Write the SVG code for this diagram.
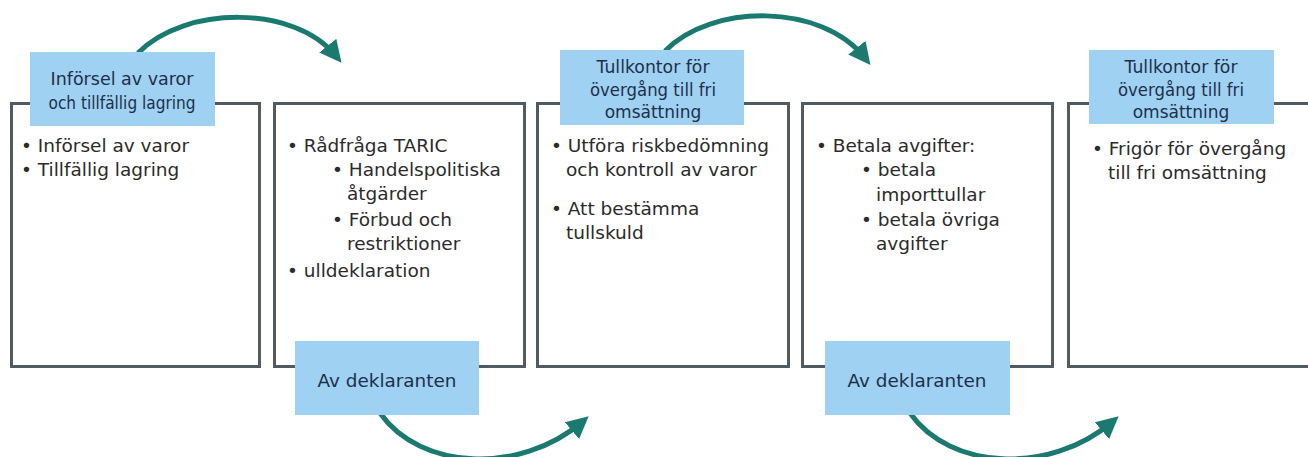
<svg xmlns="http://www.w3.org/2000/svg" width="1308" height="457" viewBox="0 0 1308 457">
<defs>
<style>
.frame{fill:#ffffff;stroke:#4f5a63;stroke-width:3}
.lab{fill:#9fd1f3}
.lt{font-family:"DejaVu Sans",Verdana,sans-serif;font-size:17px;fill:#1d3048;text-anchor:middle}
.bt{font-family:"DejaVu Sans",Verdana,sans-serif;font-size:18.5px;fill:#2b2b2b}
.arr{fill:none;stroke:#1b7a6f;stroke-width:5}
</style>
<marker id="ah" viewBox="0 0 10 10" refX="6" refY="5" markerWidth="4.4" markerHeight="4.4" orient="auto" markerUnits="strokeWidth">
<path d="M0,0 L10,5 L0,10 Z" fill="#1b7a6f"/>
</marker>
</defs>
<rect width="1308" height="457" fill="#ffffff"/>
<g id="connectors">
<path class="arr" d="M138,53 C185,5 295,5 336,56" marker-end="url(#ah)"/>
<path class="arr" d="M665,51 C712,3 822,3 865,58" marker-end="url(#ah)"/>
<path class="arr" d="M380,413 C420,470 520,475 582,422" marker-end="url(#ah)"/>
<path class="arr" d="M910,413 C950,470 1050,475 1112,422" marker-end="url(#ah)"/>
</g>
<g id="box1">
<rect class="frame" x="11.5" y="103.5" width="248" height="263"/>
<text class="bt" x="21" y="152">• Införsel av varor</text>
<text class="bt" x="21" y="176">• Tillfällig lagring</text>
</g>
<g id="box2">
<rect class="frame" x="274.5" y="103.5" width="250" height="263"/>
<text class="bt" x="287" y="152">• Rådfråga TARIC</text>
<text class="bt" x="332" y="176">• Handelspolitiska</text>
<text class="bt" x="347" y="200">åtgärder</text>
<text class="bt" x="332" y="226">• Förbud och</text>
<text class="bt" x="347" y="250">restriktioner</text>
<text class="bt" x="287" y="277">• ulldeklaration</text>
</g>
<g id="box3">
<rect class="frame" x="537.5" y="103.5" width="251" height="263"/>
<text class="bt" x="551" y="152">• Utföra riskbedömning</text>
<text class="bt" x="566" y="176">och kontroll av varor</text>
<text class="bt" x="551" y="215">• Att bestämma</text>
<text class="bt" x="566" y="239">tullskuld</text>
</g>
<g id="box4">
<rect class="frame" x="802.5" y="103.5" width="250" height="263"/>
<text class="bt" x="816" y="152">• Betala avgifter:</text>
<text class="bt" x="861" y="176">• betala</text>
<text class="bt" x="876" y="201">importtullar</text>
<text class="bt" x="861" y="226">• betala övriga</text>
<text class="bt" x="876" y="250">avgifter</text>
</g>
<g id="box5">
<rect class="frame" x="1068.5" y="103.5" width="260" height="263"/>
<text class="bt" x="1092" y="155">• Frigör för övergång</text>
<text class="bt" x="1108" y="179">till fri omsättning</text>
</g>
<g id="label-top1">
<rect class="lab" x="30" y="52" width="185" height="74"/>
<text class="lt" x="122" y="85" textLength="143" lengthAdjust="spacingAndGlyphs">Införsel av varor</text>
<text class="lt" x="122" y="109" textLength="147" lengthAdjust="spacingAndGlyphs">och tillfällig lagring</text>
</g>
<g id="label-top2">
<rect class="lab" x="560" y="50" width="184" height="75"/>
<text class="lt" x="653" y="73" textLength="113" lengthAdjust="spacingAndGlyphs">Tullkontor för</text>
<text class="lt" x="653" y="96" textLength="126" lengthAdjust="spacingAndGlyphs">övergång till fri</text>
<text class="lt" x="653" y="118">omsättning</text>
</g>
<g id="label-top3">
<rect class="lab" x="1089" y="50" width="185" height="74"/>
<text class="lt" x="1181" y="73" textLength="113" lengthAdjust="spacingAndGlyphs">Tullkontor för</text>
<text class="lt" x="1181" y="96" textLength="126" lengthAdjust="spacingAndGlyphs">övergång till fri</text>
<text class="lt" x="1181" y="118">omsättning</text>
</g>
<g id="label-bottom1">
<rect class="lab" x="295" y="341" width="184" height="74"/>
<text class="lt" x="387" y="387" style="font-size:18.4px">Av deklaranten</text>
</g>
<g id="label-bottom2">
<rect class="lab" x="825" y="341" width="185" height="74"/>
<text class="lt" x="917" y="387" style="font-size:18.4px">Av deklaranten</text>
</g>
</svg>
